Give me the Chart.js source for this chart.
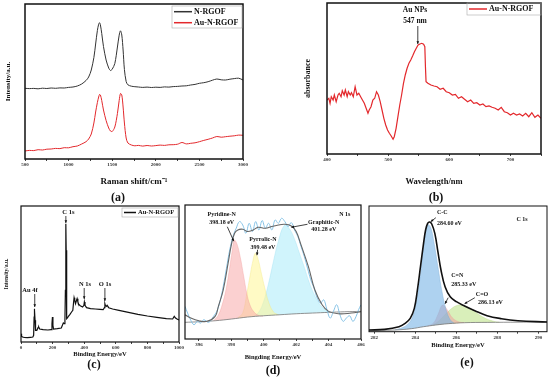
<!DOCTYPE html>
<html>
<head>
<meta charset="utf-8">
<script src="https://cdn.jsdelivr.net/npm/chart.js"></script>
<style>
body { margin: 0; background: #fff; width: 550px; height: 381px; position: relative; overflow: hidden; font-family: "Liberation Serif", "Times New Roman", serif; }
canvas { position: absolute; left: 0; top: 0; }
.lbl { position: absolute; font-weight: bold; font-size: 12px; color: #111; transform: translate(-50%, -50%); }
</style>
</head>
<body>
<canvas id="pa" width="550" height="381"></canvas>
<canvas id="pb" width="550" height="381"></canvas>
<canvas id="pc" width="550" height="381"></canvas>
<canvas id="pd" width="550" height="381"></canvas>
<canvas id="pe" width="550" height="381"></canvas>
<div class="lbl" style="left:118px;top:197px">(a)</div>
<div class="lbl" style="left:436px;top:197px">(b)</div>
<div class="lbl" style="left:94px;top:364px">(c)</div>
<div class="lbl" style="left:273px;top:370px">(d)</div>
<div class="lbl" style="left:467px;top:362px">(e)</div>
<script>
// (a) Raman
const ramanShift = [500,550,600,650,700,750,800,850,900,950,1000,1050,1100,1150,1200,1230,1260,1290,1310,1330,1345,1355,1365,1380,1400,1430,1460,1480,1500,1530,1560,1580,1595,1610,1625,1640,1660,1680,1720,1760,1800,1850,1900,1950,2000,2050,2100,2150,2200,2250,2300,2350,2400,2450,2500,2550,2600,2650,2700,2750,2800,2850,2900,2950,3000];
const nRgof = [70.7,70.4,70.6,70.2,70.8,70.5,71.0,70.7,71.1,71.0,71.6,72.0,73.0,75.0,78.5,82.0,89.0,101.5,115.0,128.5,134.8,136.3,134.0,125.5,112.5,99.0,91.0,88.5,89.8,95.5,112.0,123.8,128.2,124.0,109.0,89.5,77.5,74.2,72.8,72.3,72.0,71.6,71.9,71.5,71.8,71.6,72.1,71.9,72.4,72.6,73.0,73.2,74.0,74.6,75.7,76.3,77.3,78.8,80.0,79.2,79.0,79.8,80.4,80.8,79.0];
const auNRgof = [8.0,8.6,8.4,9.3,9.0,9.8,10.0,10.6,10.4,11.3,11.2,12.3,13.0,15.0,17.3,20.0,25.0,36.0,47.0,56.5,62.0,64.5,64.0,58.5,49.0,38.5,31.0,28.0,27.5,32.0,45.5,58.5,65.5,64.0,52.0,36.0,21.0,16.0,14.0,13.2,13.6,12.9,13.5,13.0,13.4,13.9,13.6,14.2,14.3,14.8,16.5,15.1,15.7,16.2,17.3,18.6,19.7,21.0,22.5,21.8,22.3,22.8,23.2,23.9,23.7];
const ramanTicks = [500,750,1000,1250,1500,1750,2000,2250,2500,2750,3000];
const ramanLabels = [500,1000,1500,2000,2500,3000];

// (b) UV-vis
const wavelength = [400,403,405,407,410,412,415,418,420,423,425,428,430,433,435,438,440,443,446,449,452,455,458,461,464,467,469,472,475,478,481,484,487,490,493,496,499,502,505,508,510,513,516,519,522,525,528,531,534,537,540,543,546,549,552,555,558,560,561,562,565,570,575,580,585,590,595,600,605,610,615,620,625,630,635,640,645,650,655,660,665,670,675,680,685,690,695,700,705,710,715,720,725,730,735,740,745,750];
const absorbance = [54,55.7,50.7,57.3,54,59,52.3,59,60.7,57.3,63.3,59,64,57.3,62.3,59,61.3,57.3,67.3,59,60.7,57.3,54,50.7,45.7,40.7,44,47.3,54,55.7,62.3,59,52.3,44,35.7,29,24,20.7,18,14.7,17.3,25.7,37.3,49,59,70.3,79,85.7,90.7,94,98,102.3,105.7,109,110,110.7,109.7,107.3,87.3,72.3,70.7,69,68,67.3,64.7,65.7,62.3,61.3,59,59.7,55.7,57.3,54.7,52.3,54,50.7,51.3,49,50,47.3,48,46.7,45.7,44,46.7,42.3,41.3,39,40.7,39,40,38,40.7,37.3,41.3,36.7,39,35.7];
const uvTicks = [400,450,500,550,600,650,700,750];
const uvLabels = [400,500,600,700];

// (c) XPS survey
const surveyBE = [0,2,5,10,20,40,60,75,80,83,84,85,87,89,92,100,108,112,118,140,170,190,196,199,202,206,230,255,262,268,274,278,281,283,284.5,286,288,290,295,300,310,320,328,333,336,340,345,350,355,360,365,375,390,398,401,405,415,440,470,500,520,528,531,534,540,545,555,580,620,680,740,800,860,920,960,970,978,990,1000];
const surveyCounts = [8.3,5,5.7,5,4.7,4.3,4.7,5,6.7,25,33.3,25,31.7,21.7,11.7,11.7,14.3,15,13,12.3,12,12.3,18.3,25,16.7,13,13.3,14,16.7,19,18.3,21.7,51.7,101.7,118.3,91.7,35,23.3,24.3,25.7,27.7,30,31.7,40,44.3,41.7,38.3,41,43.3,40,37.7,36.3,35,36.7,40,36.7,34.3,33.3,33,32.7,32.3,34.3,38.3,36.7,35.7,36.7,34.3,33,31.7,29.7,27.7,26,24.7,23.3,23,25.7,24,22.7,22];
const surveyTicks = [0,100,200,300,400,500,600,700,800,900,1000];
const surveyLabels = [0,200,400,600,800,1000];

// (d) N 1s
const n1sBE = [395.14,395.3,395.5,395.7,395.9,396.1,396.3,396.6,396.9,397.1,397.3,397.5,397.7,397.9,398.1,398.3,398.5,398.7,398.9,399.1,399.3,399.5,399.7,399.9,400.1,400.3,400.5,400.7,400.9,401.1,401.3,401.5,401.7,401.9,402.1,402.3,402.5,402.7,402.9,403.1,403.3,403.5,403.7,403.9,404.1,404.3,404.5,404.7,404.9,405.1,405.3,405.5,405.7,405.85,406];
const n1sRaw = [32.7,26,18.7,14.3,17.7,16,19.3,16.7,22.7,27.7,37.7,52.7,71,89.3,102.7,111,117.7,114.3,106,116,107.7,117.7,109.3,118.7,111,116,109.3,119.3,116,121,117.7,112.7,116.7,109.3,102.7,92.7,82.7,71,59.3,51,41,36,39.3,29.3,21,27.7,34.3,24.3,17.7,21,23.3,17.7,22.7,29.3,34.3];
const n1sFitBE = [395.14,395.5,396,396.5,397,397.2,397.5,397.8,398,398.2,398.4,398.7,399,399.35,399.65,400.1,400.5,400.9,401.3,401.7,402,402.3,402.75,403.15,403.6,404,404.6,405.4,406];
const n1sFit = [24.3,21,18.3,17.7,22.7,32.7,49.3,76,94.3,106,109.3,110,107.7,109.3,112,111,112.7,114.3,115,113.3,107.7,94.3,72.7,49.3,34.3,27.7,25.3,26,27.3];
const n1sBgBE = [395.14,396,397,398,399,400,401,402,403,404,405,406];
const n1sBg = [16.7,17.3,18.3,20,22,23.3,24.3,25.3,26,26.7,27.3,27.7];
const pyridineBE = [396.9,397.2,397.5,397.7,397.9,398.05,398.18,398.35,398.55,398.75,398.95,399.15,399.4,399.7,399.95];
const pyridine = [18.3,24,38,52,72,88,99,95,82,64,46,34,27,23.5,22.8];
const pyrrolicBE = [398.4,398.7,398.95,399.15,399.3,399.48,399.65,399.85,400.05,400.3,400.6,400.9];
const pyrrolic = [21.3,26,45,63,76,86,80,66,52,37,27,24.3];
const graphiticBE = [399.4,399.7,400.0,400.3,400.6,400.9,401.28,401.6,401.9,402.2,402.5,402.8,403.1,403.4,403.7,404.1];
const graphitic = [22.8,27,38,56,78,98,114,110,100,86,72,57,45,36,30.5,27];
const n1sTicks = [396,397,398,399,400,401,402,403,404,405,406];
const n1sLabels = [396,398,400,402,404,406];

// (e) C 1s
const c1sFitBE = [281.74,282.5,283.2,283.5,283.75,283.95,284.1,284.25,284.4,284.5,284.6,284.7,284.8,284.95,285.1,285.25,285.45,285.7,286,286.4,286.9,287.5,288.2,289,290.42];
const c1sFit = [1.7,2.3,5,8.3,13.3,23.3,41.7,65,88.3,101.7,108.3,109.7,107.7,98.3,80,61.7,45,35,30,25.7,21,16,13,11,9.7];
const c1sBgBE = [281.74,283,283.8,284.4,285,285.6,286.4,287.5,290.42];
const c1sBg = [1,1.7,3,5,6.7,8,9,9.3,9.7];
const ccBE = [283.0,283.3,283.6,283.85,284.05,284.25,284.45,284.6,284.75,284.9,285.1,285.3,285.5,285.7,285.9];
const cc = [1.8,3.5,7,14,30,58,92,107,104,90,65,40,22,12,8.4];
const cnBE = [284.6,284.9,285.1,285.33,285.55,285.8,286.1,286.4];
const cn = [5.5,9,17,26.7,22,14,10,9];
const coBE = [284.8,285.1,285.4,285.7,286.0,286.3,286.6,287.0,287.4,287.8,288.1];
const co = [6.1,10,16,22,26,26.5,24,18.5,13.5,10.5,9.4];
const c1sTicks = [282,283,284,285,286,287,288,289,290];
const c1sLabels = [282,284,286,288,290];

const serif = '"Liberation Serif", "Times New Roman", serif';

function pts(xs, ys) {
  return xs.map((x, i) => ({ x: x, y: ys[i] }));
}

function arrowHead(c, x1, y1, x2, y2, size) {
  const a = Math.atan2(y2 - y1, x2 - x1);
  c.beginPath();
  c.moveTo(x2, y2);
  c.lineTo(x2 - size * Math.cos(a - 0.45), y2 - size * Math.sin(a - 0.45));
  c.lineTo(x2 - size * Math.cos(a + 0.45), y2 - size * Math.sin(a + 0.45));
  c.closePath();
  c.fill();
}

function makePanel(id, p) {
  const hX = p.xTitleY - p.B + p.xTitleSize * 0.6;
  const wY = p.yTitle ? p.L - p.yTitleX + p.yTitleSize * 0.6 : 0;

  const frame = {
    id: 'frame',
    afterDatasetsDraw(chart) {
      const a = chart.chartArea, c = chart.ctx;
      c.save();
      c.strokeStyle = '#111';
      c.lineWidth = p.frameW || 1.2;
      c.strokeRect(a.left, a.top, a.right - a.left, a.bottom - a.top);
      c.restore();
    }
  };

  const extras = {
    id: 'extras',
    afterDraw(chart) {
      const c = chart.ctx, xs = chart.scales.x, ys = chart.scales.y;
      c.save();
      if (p.legend) {
        const g = p.legend;
        c.strokeStyle = '#aaa';
        c.lineWidth = 0.6;
        c.strokeRect(g.x, g.y, g.w, g.h);
        c.font = 'bold ' + g.size + 'px ' + serif;
        c.textBaseline = 'middle';
        c.textAlign = 'left';
        g.items.forEach((k, i) => {
          const ds = chart.data.datasets[k];
          const yy = g.y + g.first + i * g.gap;
          c.strokeStyle = ds.borderColor;
          c.lineWidth = 1.5;
          c.beginPath();
          c.moveTo(g.x + 2, yy);
          c.lineTo(g.x + 2 + g.line, yy);
          c.stroke();
          c.fillStyle = '#111';
          c.fillText(ds.label, g.x + 4 + g.line, yy);
        });
      }
      c.fillStyle = '#111';
      c.strokeStyle = '#111';
      (p.notes || []).forEach(n => {
        c.font = 'bold ' + (n.size || 6) + 'px ' + serif;
        c.textAlign = n.align || 'center';
        c.textBaseline = 'middle';
        c.fillText(n.text, xs.getPixelForValue(n.x), ys.getPixelForValue(n.y));
      });
      (p.arrows || []).forEach(r => {
        const x1 = xs.getPixelForValue(r[0]), y1 = ys.getPixelForValue(r[1]);
        const x2 = xs.getPixelForValue(r[2]), y2 = ys.getPixelForValue(r[3]);
        c.lineWidth = 0.8;
        c.beginPath();
        c.moveTo(x1, y1);
        c.lineTo(x2, y2);
        c.stroke();
        arrowHead(c, x1, y1, x2, y2, 3);
      });
      c.restore();
    }
  };

  return new Chart(document.getElementById(id), {
    type: 'line',
    data: { datasets: p.datasets },
    options: {
      responsive: false,
      animation: false,
      events: [],
      layout: { padding: { left: p.L - wY, top: p.T, right: 550 - p.R, bottom: 381 - p.B - hX } },
      plugins: { legend: { display: false }, tooltip: { enabled: false } },
      elements: { point: { radius: 0 } },
      scales: {
        x: {
          type: 'linear',
          min: p.xMin,
          max: p.xMax,
          afterFit: s => { s.height = hX; },
          afterBuildTicks: s => { s.ticks = p.ticks.map(v => ({ value: v })); },
          grid: { display: true, drawOnChartArea: false, tickLength: 2, color: '#111', lineWidth: 0.8 },
          border: { display: false },
          ticks: {
            autoSkip: false, maxRotation: 0, padding: 1, color: '#333',
            font: { family: serif, size: p.tickSize || 5, weight: 'bold' },
            callback: v => (p.labels.indexOf(v) >= 0 ? String(v) : '')
          },
          title: { display: true, text: p.xTitle, color: '#111', padding: 0, font: { family: serif, size: p.xTitleSize, weight: 'bold' } }
        },
        y: {
          display: !!p.yTitle,
          min: 0,
          max: p.yMax,
          afterFit: s => { s.width = wY; },
          grid: { display: false },
          border: { display: false },
          ticks: { display: false },
          title: { display: !!p.yTitle, text: p.yTitle, color: '#111', padding: 0, font: { family: serif, size: p.yTitleSize || 6, weight: 'bold' } }
        }
      }
    },
    plugins: [frame, extras]
  });
}

makePanel('pa', {
  L: 25, T: 4, R: 243, B: 159, xMin: 500, xMax: 3000, yMax: 155, frameW: 1.5,
  ticks: ramanTicks, labels: ramanLabels,
  xTitle: 'Raman shift/cm⁻¹', xTitleSize: 9, xTitleY: 182,
  yTitle: 'Intensity/a.u.', yTitleSize: 7, yTitleX: 8,
  legend: { x: 172, y: 6, w: 70, h: 22, first: 5.7, gap: 11, line: 18, size: 8, items: [0, 1] },
  datasets: [
    { label: 'N-RGOF', data: pts(ramanShift, nRgof), borderColor: '#333', borderWidth: 1, tension: 0.3 },
    { label: 'Au-N-RGOF', data: pts(ramanShift, auNRgof), borderColor: '#e3282c', borderWidth: 1, tension: 0.3 }
  ]
});

makePanel('pb', {
  L: 327, T: 3, R: 541, B: 154, xMin: 400, xMax: 750, yMax: 151, frameW: 1.5,
  ticks: uvTicks, labels: uvLabels,
  xTitle: 'Wavelength/nm', xTitleSize: 8.5, xTitleY: 182,
  yTitle: 'absorbance', yTitleSize: 8, yTitleX: 308,
  legend: { x: 467, y: 3, w: 74, h: 12, first: 6, gap: 11, line: 18, size: 8, items: [0] },
  notes: [
    { text: 'Au NPs', x: 544, y: 144, size: 7.5 },
    { text: '547 nm', x: 544, y: 133, size: 7.5 }
  ],
  arrows: [[548.5, 128, 548.5, 110]],
  datasets: [
    { label: 'Au-N-RGOF', data: pts(wavelength, absorbance), borderColor: '#e3282c', borderWidth: 1.2, tension: 0 }
  ]
});

makePanel('pc', {
  L: 21, T: 206, R: 179, B: 342, xMin: 0, xMax: 1000, yMax: 136,
  ticks: surveyTicks, labels: surveyLabels,
  xTitle: 'Binding Energy/eV', xTitleSize: 6.5, xTitleY: 354,
  yTitle: 'Intensity/a.u.', yTitleSize: 5.5, yTitleX: 7,
  legend: { x: 122, y: 208, w: 56, h: 9, first: 4.5, gap: 9, line: 12, size: 6.5, items: [0] },
  notes: [
    { text: 'C 1s', x: 300, y: 130, size: 6.5 },
    { text: 'Au 4f', x: 57, y: 52, size: 6.5 },
    { text: 'N 1s', x: 405, y: 58, size: 6.5 },
    { text: 'O 1s', x: 532, y: 58, size: 6.5 }
  ],
  arrows: [[284, 126, 284, 119], [87, 48, 87, 35], [400, 54, 400, 43], [531, 54, 531, 41]],
  datasets: [
    { label: 'Au-N-RGOF', data: pts(surveyBE, surveyCounts), borderColor: '#111', borderWidth: 1.2, tension: 0 }
  ]
});

makePanel('pd', {
  L: 185, T: 205, R: 361, B: 339, xMin: 395.14, xMax: 406, yMax: 134.3,
  ticks: n1sTicks, labels: n1sLabels,
  xTitle: 'Bingding Energy/eV', xTitleSize: 6.5, xTitleY: 357,
  notes: [
    { text: 'Pyridine-N', x: 397.4, y: 125.3, size: 6 },
    { text: '398.18 eV', x: 397.4, y: 116.5, size: 6 },
    { text: 'Pyrrolic-N', x: 399.95, y: 100, size: 6 },
    { text: '399.48 eV', x: 399.95, y: 92, size: 6 },
    { text: 'N 1s', x: 405.0, y: 125.3, size: 6 },
    { text: 'Graphitic-N', x: 403.7, y: 117, size: 6 },
    { text: '401.28 eV', x: 403.7, y: 109.3, size: 6 }
  ],
  arrows: [[397.75, 112.5, 398.15, 98], [399.62, 89.5, 399.58, 84], [402.7, 115, 401.7, 112]],
  datasets: [
    { label: 'fit', data: pts(n1sFitBE, n1sFit), borderColor: '#666', borderWidth: 1.1, tension: 0.4 },
    { label: 'raw', data: pts(n1sBE, n1sRaw), borderColor: '#86c3e6', borderWidth: 1, tension: 0.4 },
    { label: 'bg', data: pts(n1sBgBE, n1sBg), borderColor: '#777', borderWidth: 0.8, tension: 0.4 },
    { label: 'Pyridine-N', data: pts(pyridineBE, pyridine), borderColor: 'rgba(240,150,150,0.6)', borderWidth: 0.6, backgroundColor: 'rgba(248,170,170,0.55)', fill: 2, tension: 0.4 },
    { label: 'Pyrrolic-N', data: pts(pyrrolicBE, pyrrolic), borderColor: 'rgba(240,230,120,0.6)', borderWidth: 0.6, backgroundColor: 'rgba(255,245,150,0.55)', fill: 2, tension: 0.4 },
    { label: 'Graphitic-N', data: pts(graphiticBE, graphitic), borderColor: 'rgba(150,220,240,0.6)', borderWidth: 0.6, backgroundColor: 'rgba(170,235,250,0.55)', fill: 2, tension: 0.4 }
  ]
});

makePanel('pe', {
  L: 369, T: 206, R: 547, B: 331.7, xMin: 281.74, xMax: 290.42, yMax: 125.7, frameW: 1,
  ticks: c1sTicks, labels: c1sLabels,
  xTitle: 'Binding Energy/eV', xTitleSize: 6.5, xTitleY: 345,
  notes: [
    { text: 'C-C', x: 285.05, y: 119, size: 6, align: 'left' },
    { text: '284.60 eV', x: 285.05, y: 108.5, size: 6, align: 'left' },
    { text: 'C 1s', x: 289.2, y: 112.3, size: 6 },
    { text: 'C=N', x: 285.75, y: 56.7, size: 6, align: 'left' },
    { text: '285.33 eV', x: 285.75, y: 47.3, size: 6, align: 'left' },
    { text: 'C=O', x: 286.95, y: 37.7, size: 6, align: 'left' },
    { text: '286.13 eV', x: 287.05, y: 29.3, size: 6, align: 'left' }
  ],
  arrows: [[285.0, 114, 284.75, 110], [285.6, 34, 285.45, 28], [286.9, 34, 286.4, 28]],
  datasets: [
    { label: 'fit', data: pts(c1sFitBE, c1sFit), borderColor: '#111', borderWidth: 1.6, tension: 0.4 },
    { label: 'bg', data: pts(c1sBgBE, c1sBg), borderColor: '#777', borderWidth: 0.8, tension: 0.4 },
    { label: 'C-C', data: pts(ccBE, cc), borderColor: 'rgba(120,170,215,0.7)', borderWidth: 0.6, backgroundColor: 'rgba(120,180,230,0.6)', fill: 1, tension: 0.4 },
    { label: 'C=N', data: pts(cnBE, cn), borderColor: 'rgba(230,150,150,0.6)', borderWidth: 0.6, backgroundColor: 'rgba(240,160,160,0.55)', fill: 1, tension: 0.4 },
    { label: 'C=O', data: pts(coBE, co), borderColor: 'rgba(170,210,110,0.6)', borderWidth: 0.6, backgroundColor: 'rgba(185,225,130,0.55)', fill: 1, tension: 0.4 }
  ]
});
</script>
</body>
</html>
